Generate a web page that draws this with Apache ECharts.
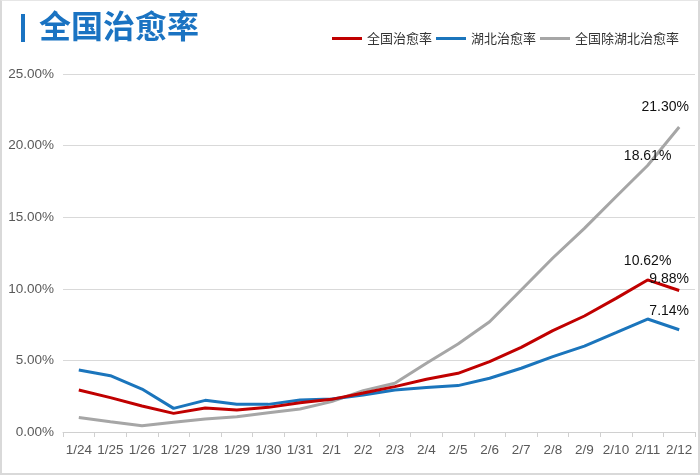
<!DOCTYPE html>
<html><head><meta charset="utf-8">
<script src="https://cdn.jsdelivr.net/npm/echarts@6/dist/echarts.min.js"></script>
<style>
html,body{margin:0;padding:0;background:#fff;}
#c{width:700px;height:475px;box-sizing:border-box;border:2px solid #d9d9d9;border-top:1px solid #e6e6e6;}
</style></head>
<body><div id="c"></div>
<script>
var categories = ['1/24','1/25','1/26','1/27','1/28','1/29','1/30','1/31','2/1','2/2','2/3','2/4','2/5','2/6','2/7','2/8','2/9','2/10','2/11','2/12'];
var national = [2.93,2.40,1.82,1.30,1.68,1.54,1.72,2.05,2.28,2.72,3.17,3.68,4.10,4.91,5.91,7.08,8.10,9.33,10.62,9.88];
var hubei = [4.33,3.93,3.00,1.65,2.21,1.93,1.93,2.23,2.30,2.58,2.93,3.10,3.24,3.75,4.45,5.26,6.00,6.94,7.89,7.14];
var exHubei = [1.02,0.72,0.44,0.68,0.91,1.07,1.35,1.61,2.12,2.89,3.40,4.80,6.15,7.70,9.92,12.15,14.22,16.43,18.61,21.30];
var yTicks = [0,5,10,15,20,25];
var seriesNames = ['全国治愈率','湖北治愈率','全国除湖北治愈率'];

function withLabels(arr, cfg) {
  return arr.map(function(v, i) {
    if (cfg[i]) {
      return {value: v, label: {show: true, position: 'top', distance: cfg[i].d, offset: [cfg[i].x, 0],
        formatter: function(p){ return Number(p.value).toFixed(2) + '%'; }}};
    }
    return v;
  });
}

var chart = echarts.init(document.getElementById('c'), null, {renderer: 'canvas'});
var lblStyle = {show: false, color: '#111', fontSize: 14, fontFamily: '"Liberation Sans", Arial, sans-serif'};
function mkSeries(name, color, data, z) {
  return {name: name, type: 'line', symbol: 'circle', symbolSize: 0, showSymbol: true,
    color: color, lineStyle: {width: 3, color: color}, itemStyle: {color: color},
    label: lblStyle, z: z, data: data};
}
chart.setOption({
  animation: false,
  backgroundColor: '#fff',
  graphic: [
    {type: 'rect', left: 19, top: 13, shape: {width: 4, height: 28}, style: {fill: '#1a73c2'}},
    {type: 'text', left: 37, top: 9, style: {text: '全国治愈率', fill: '#1a73c2', font: 'bold 32px "Noto Sans CJK SC", sans-serif'}}
  ],
  legend: {
    right: 14, top: 26, itemWidth: 30, itemHeight: 3, itemGap: 4,
    icon: 'rect',
    textStyle: {color: '#333', fontSize: 13, fontFamily: '"Noto Sans CJK SC", sans-serif'},
    data: seriesNames
  },
  grid: {left: 61, right: 3, top: 73, bottom: 41},
  xAxis: {
    type: 'category', data: categories, boundaryGap: true,
    axisLine: {lineStyle: {color: '#d0d0d0'}},
    axisTick: {show: true, lineStyle: {color: '#d0d0d0'}, length: 5},
    axisLabel: {interval: 0, color: '#595959', fontSize: 13.5, margin: 11, fontFamily: '"Liberation Sans", Arial, sans-serif'}
  },
  yAxis: {
    type: 'value', min: yTicks[0], max: yTicks[yTicks.length-1], interval: 5,
    axisLine: {show: false}, axisTick: {show: false},
    splitLine: {lineStyle: {color: '#d9d9d9'}},
    axisLabel: {color: '#595959', fontSize: 13.5, margin: 9, fontFamily: '"Liberation Sans", Arial, sans-serif',
      formatter: function(v){ return v.toFixed(2) + '%'; }}
  },
  series: [
    mkSeries(seriesNames[0], '#c00000', withLabels(national, {18: {d: 12, x: 0}, 19: {d: 4, x: -10}}), 3),
    mkSeries(seriesNames[1], '#1b75bc', withLabels(hubei, {19: {d: 12, x: -10}}), 2),
    mkSeries(seriesNames[2], '#a6a6a6', withLabels(exHubei, {18: {d: 2, x: 0}, 19: {d: 13, x: -14}}), 1)
  ]
});
</script></body></html>
